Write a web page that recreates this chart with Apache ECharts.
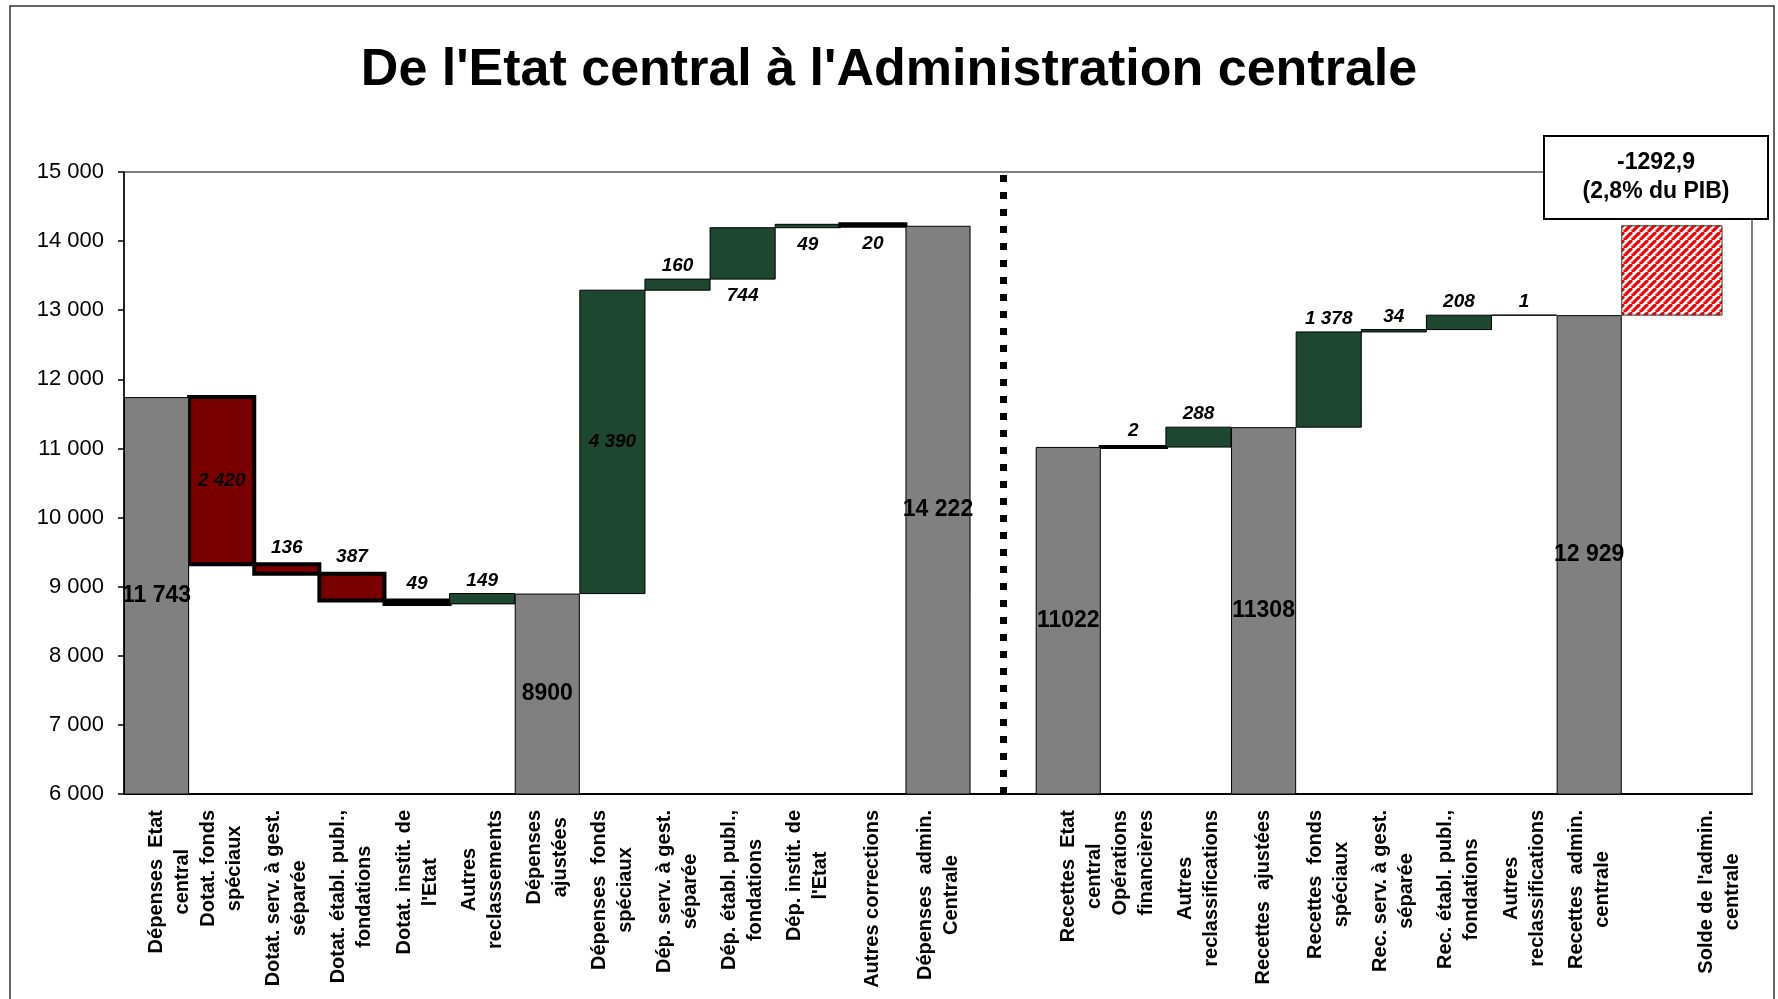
<!DOCTYPE html>
<html>
<head>
<meta charset="utf-8">
<title>De l'Etat central à l'Administration centrale</title>
<script src="https://cdn.jsdelivr.net/npm/echarts@6/dist/echarts.min.js"></script>
<style>
html, body { margin: 0; padding: 0; background: #fff; }
#chart { width: 1778px; height: 999px; }
</style>
</head>
<body>
<div id="chart"></div>
<script>
const categories = [
  '\nDépenses  Etat\ncentral', 'Dotat. fonds\nspéciaux', 'Dotat. serv. à gest.\nséparée',
  'Dotat. établ. publ.,\nfondations', 'Dotat. instit. de\nl\'Etat', 'Autres\nreclassements',
  'Dépenses\najustées', 'Dépenses  fonds\nspéciaux', 'Dép. serv. à gest.\nséparée',
  'Dép. établ. publ.,\nfondations', 'Dép. instit. de\nl\'Etat', 'Autres corrections',
  'Dépenses  admin.\nCentrale', '',
  '\nRecettes  Etat\ncentral', 'Opérations\nfinancières', 'Autres\nreclassifications',
  'Recettes  ajustées', 'Recettes  fonds\nspéciaux', 'Rec. serv. à gest.\nséparée',
  'Rec. établ. publ.,\nfondations', 'Autres\nreclassifications', 'Recettes  admin.\ncentrale',
  '', 'Solde de l\'admin.\ncentrale'
]

// grey total bars
const totals = [11743, null, null, null, null, null, 8900, null, null, null, null, null, 14222, null,
  11022, null, null, 11308, null, null, null, null, 12929, null, null]

// steps between the totals
const steps = [null, -2420, -136, -387, -49, 149, null, 4390, 160, 744, 49, -20, null, null,
  null, -2, 288, null, 1378, 34, 208, 1, null, null, null]

const barLabels = ['11 743', '2 420', '136', '387', '49', '149', '8900', '4 390', '160', '744', '49', '20',
  '14 222', '', '11022', '2', '288', '11308', '1 378', '34', '208', '1', '12 929', '', '']

const solde = -1292.9
const soldePib = '2,8'
const soldeIndex = 23

const yMin = 6000
const yMax = 15000
const yStep = 1000

const FONT = '"Liberation Sans", Arial, sans-serif'
const labelsBelow = [9, 10, 11]

// floating bars: [index, low, high]
let level = 0
const stepData = []
categories.forEach((c, i) => {
  if (totals[i] != null) {
    level = totals[i]
  } else if (steps[i] != null) {
    const next = level + steps[i]
    stepData.push([i, Math.min(level, next), Math.max(level, next)])
    level = next
  }
})

// hatched pattern for the balance bar
const hatch = document.createElement('canvas')
hatch.width = 8
hatch.height = 8
const hc = hatch.getContext('2d')
hc.fillStyle = '#fff'
hc.fillRect(0, 0, 8, 8)
hc.strokeStyle = '#FF0000'
hc.lineWidth = 3.2
;[-8, 0, 8].forEach(dx => {
  hc.beginPath()
  hc.moveTo(dx, 8)
  hc.lineTo(dx + 8, 0)
  hc.stroke()
})

const recettes = totals[22]
const soldeData = [[soldeIndex, recettes, recettes - solde]]

const chart = echarts.init(document.getElementById('chart'))

chart.setOption({
  animation: false,
  title: {
    text: 'De l\'Etat central à l\'Administration centrale',
    left: 'center',
    top: 40,
    textStyle: { fontFamily: FONT, fontSize: 52, fontWeight: 'bold', color: '#000' }
  },
  grid: {
    left: 124,
    right: 26,
    top: 172,
    bottom: 205,
    show: true,
    borderColor: '#000',
    borderWidth: 1,
    backgroundColor: 'transparent'
  },
  xAxis: {
    type: 'category',
    data: categories,
    axisLine: { lineStyle: { color: '#000', width: 2 } },
    axisTick: { length: 6, lineStyle: { color: '#000', width: 1.5 } },
    axisLabel: {
      interval: 0,
      rotate: 90,
      margin: 16,
      color: '#000',
      fontFamily: FONT,
      fontSize: 20,
      fontWeight: 'bold',
      lineHeight: 26,
      formatter: v => v.split('\n').map(l => '{c|' + (l || ' ') + '}').join('\n'),
      rich: {
        c: { align: 'center', fontFamily: FONT, fontSize: 20, fontWeight: 'bold', color: '#000', lineHeight: 26 }
      }
    }
  },
  yAxis: {
    type: 'value',
    min: yMin,
    max: yMax,
    interval: yStep,
    splitLine: { show: false },
    axisLine: { show: true, lineStyle: { color: '#000', width: 1.5 } },
    axisTick: { show: true, length: 6, lineStyle: { color: '#000', width: 1.5 } },
    axisLabel: {
      margin: 20,
      color: '#000',
      fontFamily: FONT,
      fontSize: 22,
      formatter: v => String(v).replace(/\B(?=(\d{3})+$)/g, ' ')
    }
  },
  series: [
    {
      type: 'bar',
      data: totals,
      barCategoryGap: '0%',
      itemStyle: { color: '#808080', borderColor: '#000', borderWidth: 1 },
      label: {
        show: true,
        position: 'inside',
        color: '#000',
        fontFamily: FONT,
        fontSize: 23,
        fontWeight: 'bold',
        formatter: p => barLabels[p.dataIndex]
      },
      markLine: {
        silent: true,
        symbol: 'none',
        label: { show: false },
        lineStyle: { color: '#000', width: 7, type: [7, 10] },
        data: [{ xAxis: 13 }]
      }
    },
    {
      type: 'custom',
      data: stepData,
      clip: true,
      renderItem: (params, api) => {
        const i = api.value(0)
        const hi = api.coord([i, api.value(2)])
        const lo = api.coord([i, api.value(1)])
        const w = api.size([1, 0])[0]
        const negative = steps[i] < 0
        let pos = 'top'
        if (Math.abs(steps[i]) > 2000) pos = 'inside'
        else if (labelsBelow.includes(i)) pos = 'bottom'
        return {
          type: 'rect',
          shape: { x: hi[0] - w / 2, y: hi[1], width: w, height: lo[1] - hi[1] },
          style: {
            fill: negative ? '#7A0000' : '#1D4730',
            stroke: '#000',
            lineWidth: negative ? 4 : 1
          },
          textContent: {
            style: {
              text: barLabels[i],
              fill: '#000',
              fontFamily: FONT,
              fontSize: 19,
              fontWeight: 'bold',
              fontStyle: 'italic'
            }
          },
          textConfig: { position: pos, distance: pos === 'bottom' ? 7 : (negative ? 5 : 3) }
        }
      }
    },
    {
      type: 'custom',
      data: soldeData,
      renderItem: (params, api) => {
        const top = api.coord([api.value(0), api.value(2)])
        const bottom = api.coord([api.value(0), api.value(1)])
        const w = api.size([1, 0])[0]
        return {
          type: 'rect',
          shape: { x: top[0] - w / 2, y: top[1], width: w * 1.54, height: bottom[1] - top[1] },
          style: { fill: { image: hatch, repeat: 'repeat' }, stroke: '#333', lineWidth: 1 }
        }
      }
    }
  ],
  graphic: [
    {
      type: 'rect',
      shape: { x: 10, y: 6, width: 1764, height: 1100 },
      style: { fill: null, stroke: '#333', lineWidth: 1.5 },
      silent: true
    },
    {
      type: 'rect',
      shape: { x: 1544, y: 136, width: 224, height: 83 },
      style: { fill: '#fff', stroke: '#000', lineWidth: 2 },
      z: 100
    },
    {
      type: 'text',
      x: 1656,
      y: 177,
      z: 101,
      style: {
        text: solde.toFixed(1).replace('.', ',') + '\n(' + soldePib + '% du PIB)',
        align: 'center',
        verticalAlign: 'middle',
        fontFamily: FONT,
        fontSize: 23,
        fontWeight: 'bold',
        lineHeight: 29,
        fill: '#000'
      }
    }
  ]
})
</script>
</body>
</html>
